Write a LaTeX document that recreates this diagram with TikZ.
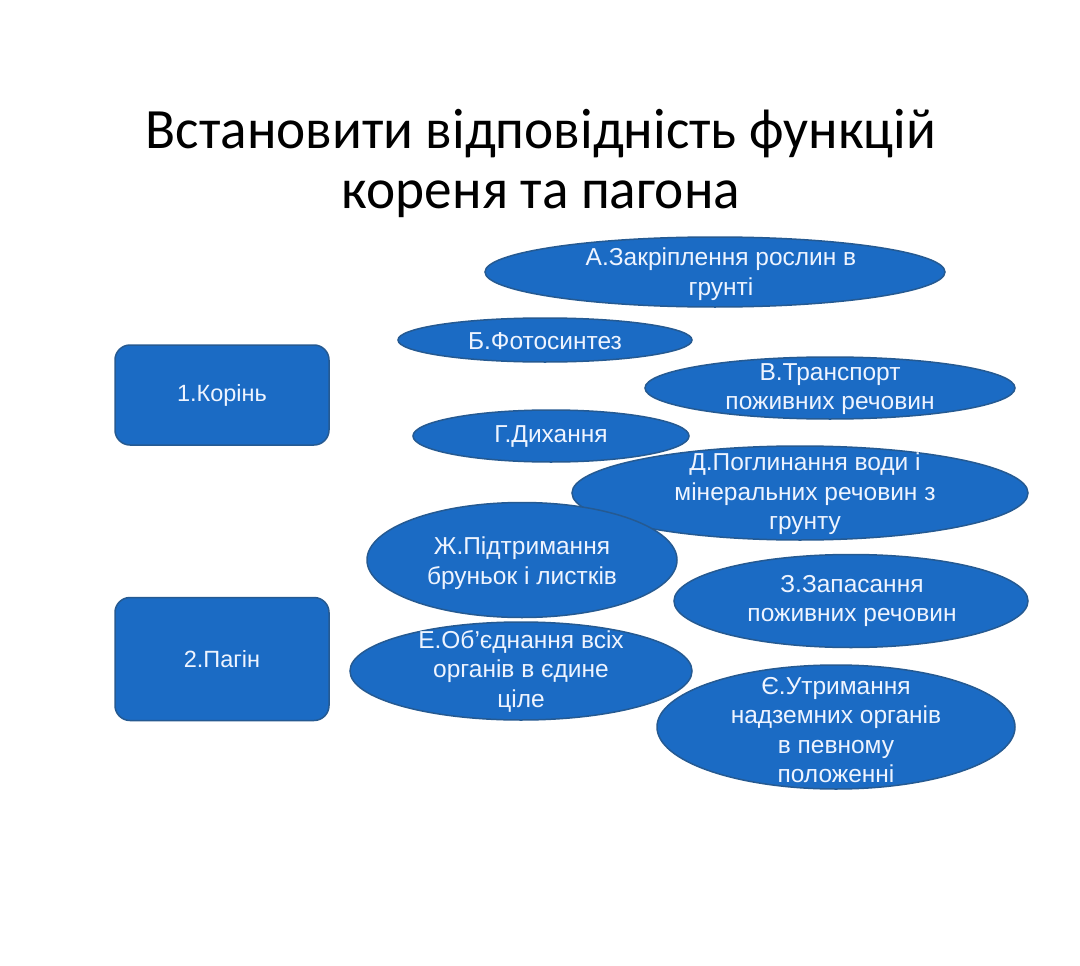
\documentclass[tikz,border=0pt]{standalone}
\usepackage{fontspec}
\setmainfont{Liberation Sans}
\newfontfamily\titlefont[FakeStretch=0.97]{Carlito}
\newfontfamily\ellfont{Liberation Sans}
\usetikzlibrary{shapes.geometric}
\definecolor{bfill}{HTML}{1B6BC4}
\definecolor{bline}{HTML}{255A92}
\definecolor{btext}{HTML}{EEF4FF}
\tikzset{
  ell/.style={ellipse, draw=bline, line width=1.5pt, fill=bfill, inner sep=0pt},
  etxt/.style={text=btext, align=center, font=\ellfont\fontsize{24.5}{29.5}\selectfont, inner sep=0pt},
  rbox/.style={draw=bline, line width=1.5pt, fill=bfill, rounded corners=15pt, text=btext, font=\fontsize{23.5}{28}\selectfont},
  ttl/.style={anchor=base, font=\titlefont\fontsize{57}{60}\selectfont, inner sep=0pt}
}
\begin{document}
\begin{tikzpicture}[x=1pt,y=-1pt]
\useasboundingbox[fill=white] (0,0) rectangle (1080,966);
\node[ttl] (t1) at (541,149) {Встановити відповідність функцій};
\node[ttl] (t2) at (541,208) {кореня та пагона};
% boxes
\node[rbox, minimum width=214pt, minimum height=100pt] (k) at (222,395) {1.Корінь};
\node[rbox, minimum width=214pt, minimum height=123pt] (p) at (222,659) {2.Пагін};
% ellipses
\node[ell, minimum width=460pt, minimum height=70pt] (a) at (715,272) {};
\node[etxt] (ta) at (721,274) {А.Закріплення рослин в\\грунті};
\node[ell, minimum width=294pt, minimum height=44pt] (b) at (545,340) {};
\node[etxt] (tb) at (545,341) {Б.Фотосинтез};
\node[ell, minimum width=370pt, minimum height=62pt] (v) at (830,388) {};
\node[etxt] (tv) at (830,389) {В.Транспорт\\поживних речовин};
\node[ell, minimum width=276pt, minimum height=52pt] (g) at (551,436) {};
\node[etxt] (tg) at (551,437) {Г.Дихання};
\node[ell, minimum width=456pt, minimum height=94pt] (d) at (800,493) {};
\node[etxt] (td) at (805,494) {Д.Поглинання води і\\мінеральних речовин з\\грунту};
\node[ell, minimum width=310pt, minimum height=115pt] (zh) at (522,560) {};
\node[etxt] (tzh) at (522,563) {Ж.Підтримання\\бруньок і листків};
\node[ell, minimum width=354pt, minimum height=93pt] (z) at (851,601) {};
\node[etxt] (tz) at (852,601) {З.Запасання\\поживних речовин};
\node[ell, minimum width=342pt, minimum height=98pt] (e) at (521,671) {};
\node[etxt] (te) at (521,671) {Е.Об’єднання всіх\\органів в єдине\\ціле};
\node[ell, minimum width=358pt, minimum height=124pt] (ye) at (836,727) {};
\node[etxt] (tye) at (836,730) {Є.Утримання\\надземних органів\\в певному\\положенні};
\end{tikzpicture}
\end{document}
